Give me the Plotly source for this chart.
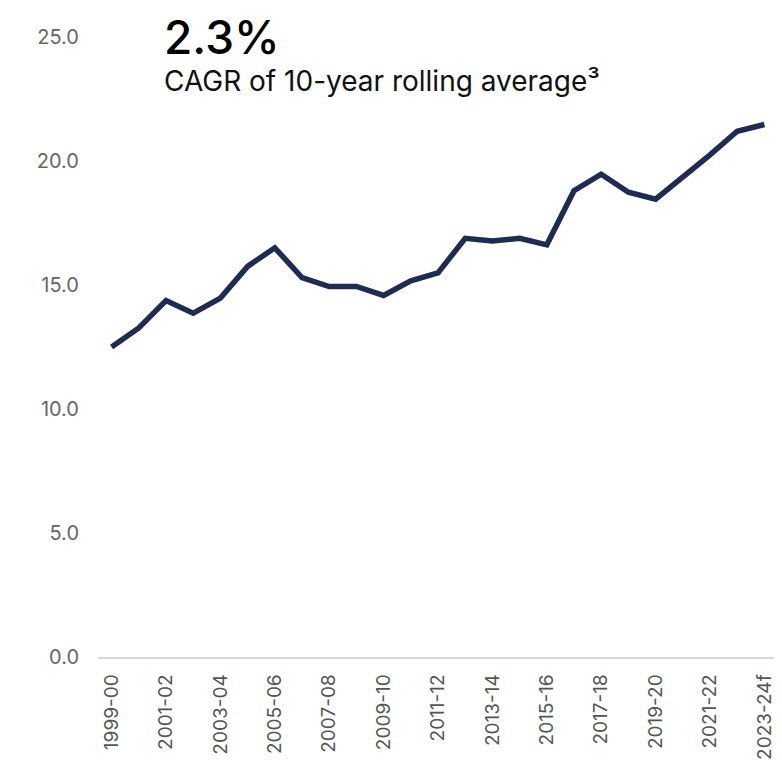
import plotly.graph_objects as go

years = ["1999-00", "2000-01", "2001-02", "2002-03", "2003-04", "2004-05", "2005-06",
         "2006-07", "2007-08", "2008-09", "2009-10", "2010-11", "2011-12", "2012-13",
         "2013-14", "2014-15", "2015-16", "2016-17", "2017-18", "2018-19", "2019-20",
         "2020-21", "2021-22", "2022-23", "2023-24f"]
values = [12.5, 13.27, 14.37, 13.86, 14.47, 15.75, 16.5, 15.3, 14.94, 14.94, 14.58,
          15.17, 15.49, 16.88, 16.77, 16.88, 16.62, 18.8, 19.47, 18.74, 18.46, 19.34,
          20.25, 21.2, 21.47]
y_ticks = [0, 5, 10, 15, 20, 25]
y_tick_labels = ["0.0", "5.0", "10.0", "15.0", "20.0", "25.0"]
headline = "2.3%"
subtitle = "CAGR of 10-year rolling average³"

# The page body has an 8px margin; the figure is sized so the plot area lands where the reference has it.
fig = go.Figure()
fig.add_trace(go.Scatter(
    x=years, y=values, mode="lines",
    line=dict(color="#1e2b52", width=5.5, shape="linear"),
    hoverinfo="skip",
))

fig.update_layout(
    width=774, height=763,
    margin=dict(l=90, r=4, t=29, b=114),
    paper_bgcolor="white", plot_bgcolor="white",
    showlegend=False,
    font=dict(family="Inter", color="#666666"),
    xaxis=dict(
        type="category", range=[-0.5, 24.5],
        tickmode="array", tickvals=years[::2], ticktext=years[::2],
        tickangle=-90, tickfont=dict(size=19, color="#555555", family="Inter"),
        showgrid=False, zeroline=False,
        showline=True, linecolor="#d9d9d9", linewidth=1.5,
        ticks="", ticklabelstandoff=8,
    ),
    yaxis=dict(
        range=[0, 25], tickmode="array", tickvals=y_ticks, ticktext=y_tick_labels,
        tickfont=dict(size=20, color="#666666", family="Inter"),
        showgrid=False, zeroline=False, showline=False,
        ticks="", ticklabelstandoff=18,
    ),
    annotations=[
        dict(text=headline, xref="paper", yref="paper", x=(163 - 98) / 680, y=(657 - 37) / 620,
             xanchor="left", yanchor="middle", showarrow=False,
             font=dict(family="Inter", size=46, color="#000000", weight=500), xshift=-1),
        dict(text=subtitle, xref="paper", yref="paper", x=(163 - 98) / 680, y=(657 - 81) / 620,
             xanchor="left", yanchor="middle", showarrow=False,
             font=dict(family="Inter", size=28, color="#111111"), xshift=-1),
    ],
)

fig.write_html("out.html")
